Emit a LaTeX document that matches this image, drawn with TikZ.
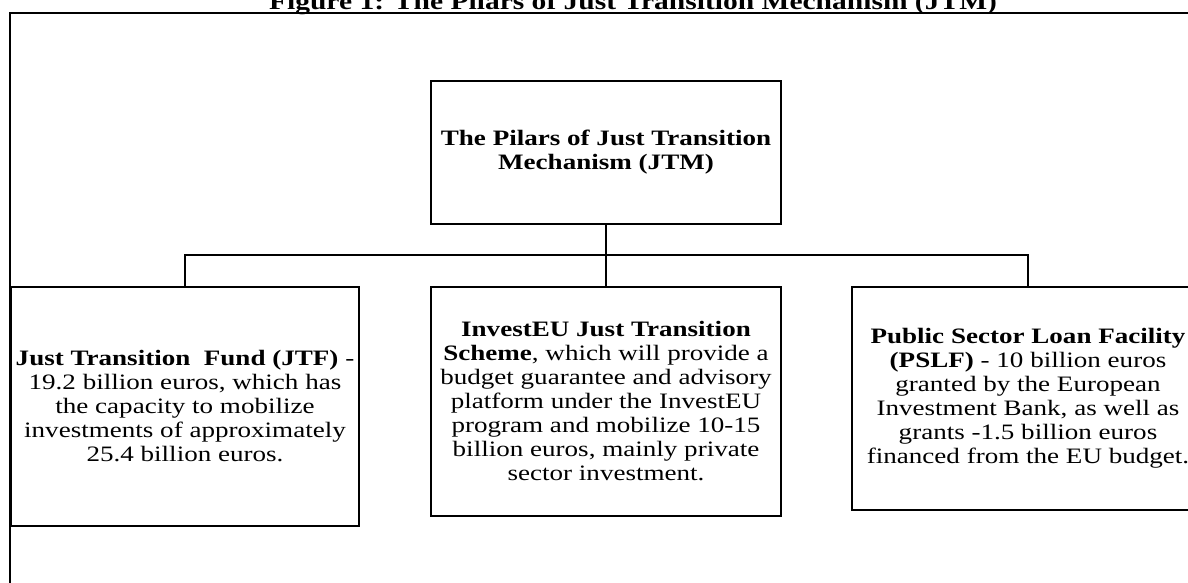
\documentclass[tikz,border=0pt]{standalone}
\usepackage{fontspec}
\setmainfont{Liberation Serif}[FakeStretch=1.23]
\usetikzlibrary{positioning}

\begin{document}
\begin{tikzpicture}[
    x=0.5pt, y=-0.5pt,
    font=\fontsize{11}{12}\selectfont,
    pillar/.style={
		rectangle,
		draw=black,
		line width=0.9pt,
		align=center,
		inner sep=0pt,
		minimum width=175pt
	},
	link/.style={
		draw,
		line width=0.9pt
	}
  ]
  \useasboundingbox (0,0) rectangle (1188,583);

  % caption over the frame, cut by the page edge
  \node [anchor=base, font=\fontsize{12}{14}\selectfont\bfseries] (caption) at (633,10)
  {Figure 1: The Pilars of Just Transition Mechanism (JTM)};
  \draw [line width=1pt] (10,640) |- (1240,13);

  % the blocks
  \node [pillar, minimum height=71.5pt] (jtm) at (606,152.5)
  {\textbf{The Pilars of Just Transition}\\
   \textbf{Mechanism (JTM)}};

  \node [pillar, minimum width=174pt, minimum height=119.5pt] (jtf) at (185,406.5)
  {\textbf{Just Transition\ \ Fund (JTF)} -\\
   19.2 billion euros, which has\\
   the capacity to mobilize\\
   investments of approximately\\
   25.4 billion euros.};

  \node [pillar, minimum height=114.5pt] (investeu) at (606,401.5)
  {\textbf{InvestEU Just Transition}\\
   \textbf{Scheme}, which will provide a\\
   budget guarantee and advisory\\
   platform under the InvestEU\\
   program and mobilize 10-15\\
   billion euros, mainly private\\
   sector investment.};

  \node [pillar, minimum width=176pt, minimum height=111.5pt] (pslf) at (1028,398.5)
  {\textbf{Public Sector Loan Facility}\\
   \textbf{(PSLF)} - 10 billion euros\\
   granted by the European\\
   Investment Bank, as well as\\
   grants -1.5 billion euros\\
   financed from the EU budget.};

  % the tree
  \coordinate (bus) at (606,255);
  \draw [link] (jtm) -- (investeu);
  \draw [link] (jtf.north) |- (bus) -| (pslf.north);

\end{tikzpicture}
\end{document}
